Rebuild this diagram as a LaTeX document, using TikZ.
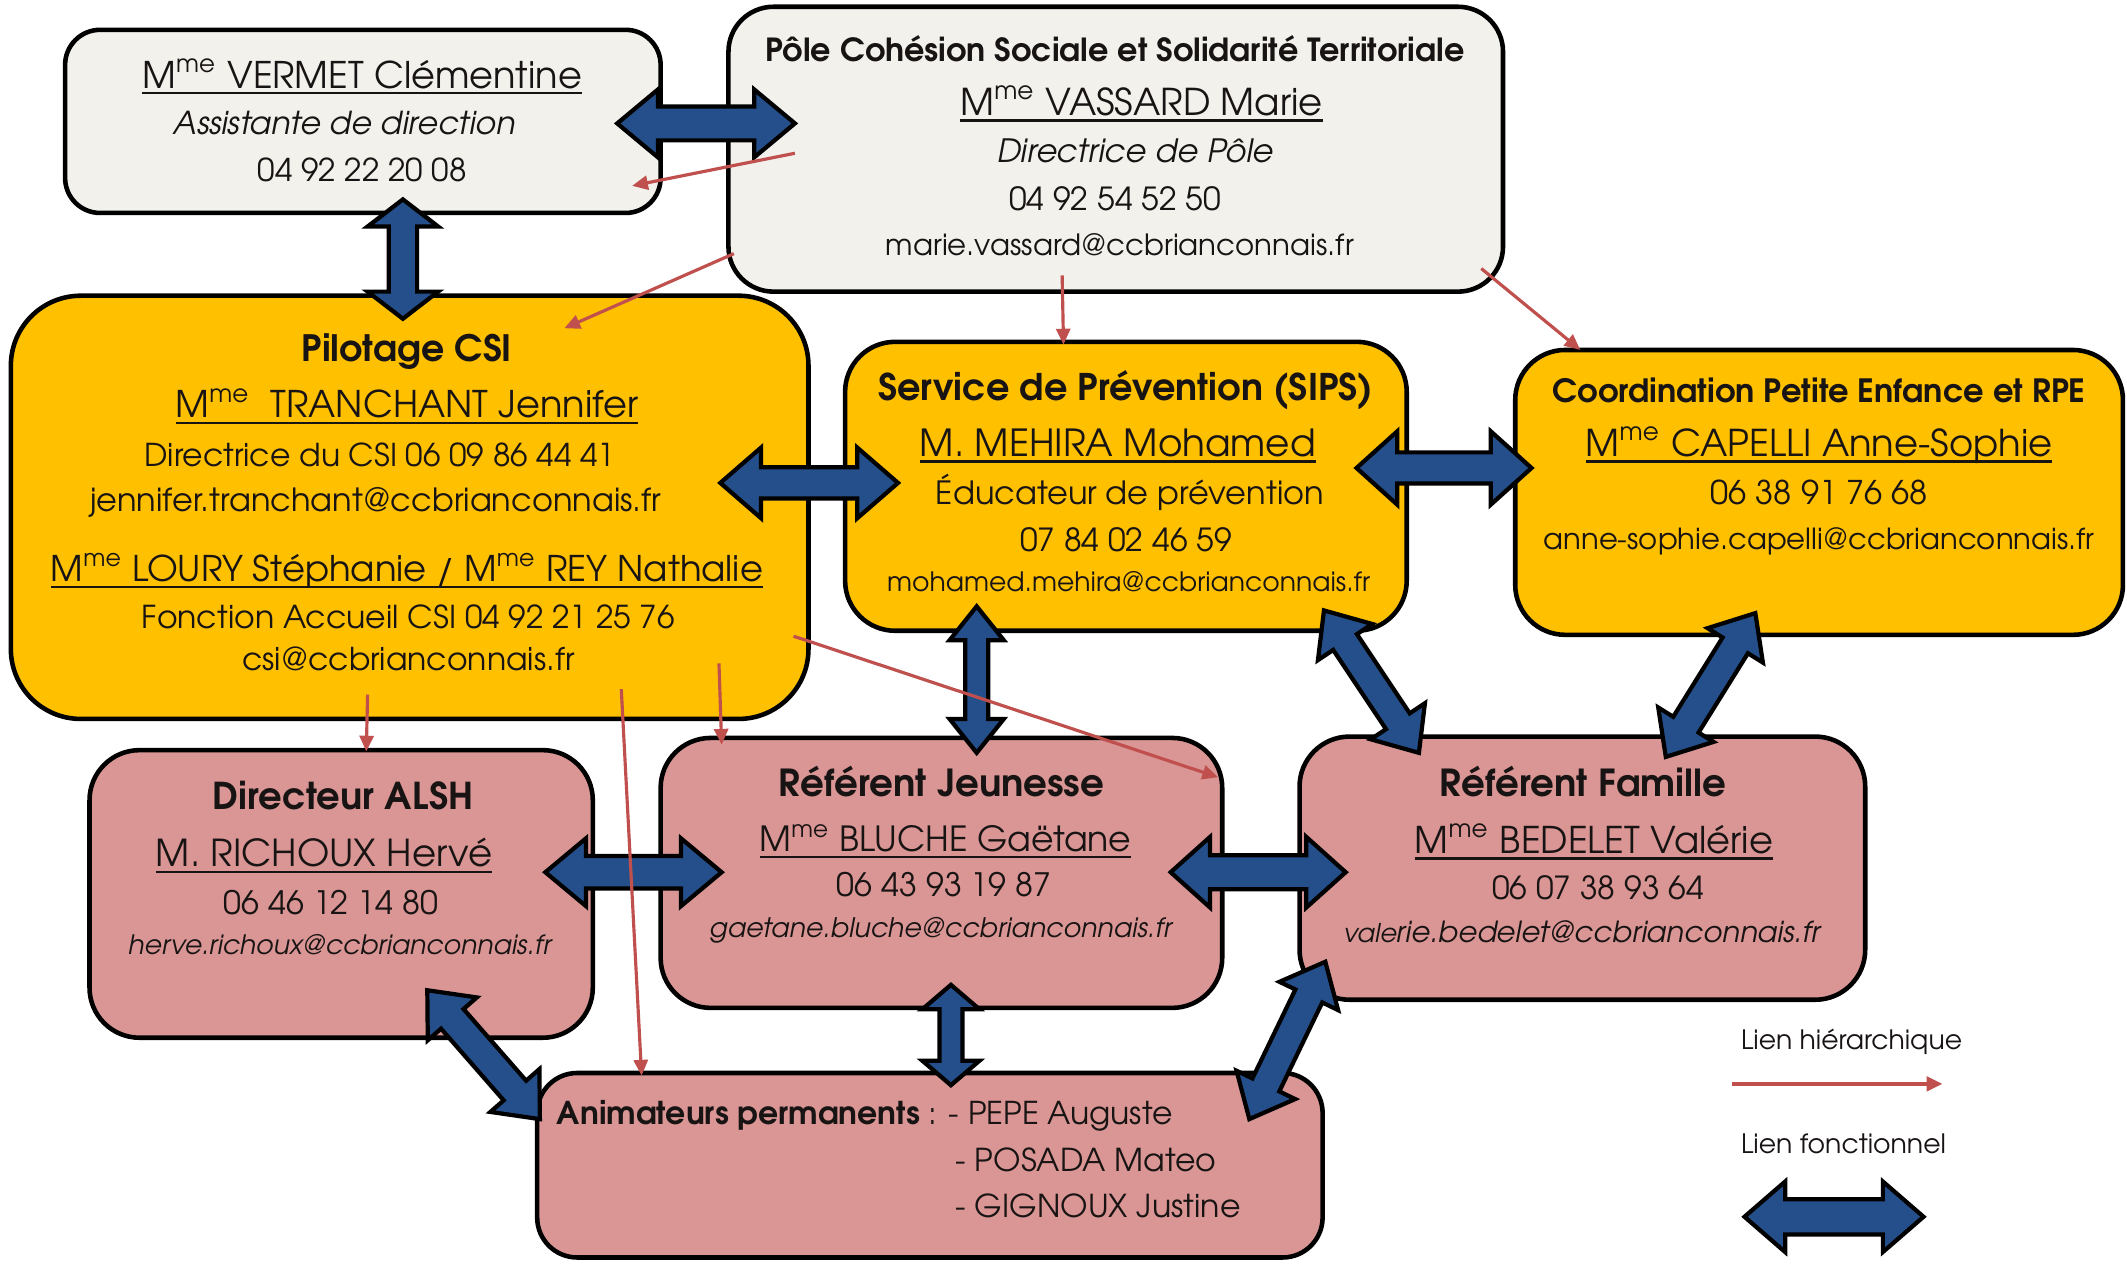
\documentclass[tikz,border=0pt]{standalone}
\usepackage{fontspec}
\setmainfont{texgyreadventor}[Extension=.otf,UprightFont=*-regular,BoldFont=*-bold,ItalicFont=*-italic,BoldItalicFont=*-bolditalic]
\usepackage{graphicx}
\usetikzlibrary{calc,arrows.meta}

\definecolor{boxgray}{RGB}{242,241,236}
\definecolor{boxyellow}{RGB}{255,192,0}
\definecolor{boxpink}{RGB}{217,150,148}
\definecolor{arrblue}{RGB}{37,79,138}
\definecolor{arrred}{RGB}{192,80,77}
\definecolor{txtc}{RGB}{25,20,20}

\newcommand\Mme{M\textsuperscript{me}}
\newsavebox\ulbox
\newcommand\myuline[1]{\sbox\ulbox{#1}\rlap{\rule[-0.17em]{\wd\ulbox}{0.065em}}\usebox\ulbox}
% box: name, x1, y1, x2, y2, style
\newcommand\mkbox[6]{%
  \node[box,#6,minimum width={(#4-#2)*0.1357mm},minimum height={(#5-#3)*0.1357mm}] (#1) at ({(#2+#4)/2},{(#3+#5)/2}) {};}
% text line: name, x, y (baseline), width, anchor, text
\newcommand\tline[6]{%
  \pgfmathsetlengthmacro\tlw{#4*0.1357mm}%
  \node[txt,anchor=#5] (#1) at (#2,#3) {\resizebox{\tlw}{!}{#6}};}
% block double arrow: from, to, head length, head half width, shaft half width
\newcommand\blockarrow[5]{%
  \coordinate (ba1) at ($(#1)!#3*0.1357mm!(#2)$);
  \coordinate (ba2) at ($(#2)!#3*0.1357mm!(#1)$);
  \draw[blk] (#1) -- ($(ba1)!#4*0.1357mm!90:(#2)$) -- ($(ba1)!#5*0.1357mm!90:(#2)$)
    -- ($(ba2)!#5*0.1357mm!-90:(#1)$) -- ($(ba2)!#4*0.1357mm!-90:(#1)$) -- (#2)
    -- ($(ba2)!#4*0.1357mm!90:(#1)$) -- ($(ba2)!#5*0.1357mm!90:(#1)$)
    -- ($(ba1)!#5*0.1357mm!-90:(#2)$) -- ($(ba1)!#4*0.1357mm!-90:(#2)$) -- cycle;}

\tikzset{
  box/.style={draw=black, line width=1.3pt, inner sep=0pt},
  graybox/.style={fill=boxgray, rounded corners=3.5mm},
  yelbox/.style={fill=boxyellow, rounded corners=5mm},
  pinkbox/.style={fill=boxpink, rounded corners=5mm},
  txt/.style={inner sep=0pt, text=txtc, font=\fontsize{9}{11}\selectfont},
  blk/.style={fill=arrblue, draw=black, line width=1.2pt, line join=miter},
  hier/.style={draw=arrred, line width=0.9pt, -{Triangle[length=4.5pt,width=4pt]}},
}

\begin{document}
\begin{tikzpicture}[x=0.1357mm,y=-0.1357mm]
\useasboundingbox[fill=white] (0,0) rectangle (1568,932);

% ---------- boxes ----------
\mkbox{vermet}{48}{22}{487}{157}{graybox}
\mkbox{vassard}{537}{5}{1108}{215}{graybox,rounded corners=4.5mm}
\mkbox{pilot}{8}{218}{596}{530}{yelbox,rounded corners=7mm}
\mkbox{sips}{623}{252}{1037}{465}{yelbox}
\mkbox{coord}{1117}{258}{1565}{468}{yelbox}
\mkbox{alsh}{66}{553}{437}{765}{pinkbox}
\mkbox{jeun}{487}{544}{901}{743}{pinkbox}
\mkbox{fam}{958}{543}{1375}{737}{pinkbox}
\mkbox{anim}{396}{791}{975}{927}{pinkbox,rounded corners=4mm}

% ---------- texts ----------
\tline{v1}{267}{65}{324}{base}{\myuline{\Mme\ VERMET Clémentine}}
\tline{v2}{254}{99.5}{252}{base}{\textit{Assistante de direction}}
\tline{v3}{267}{134}{154}{base}{04 92 22 20 08}

\tline{p1}{822}{45}{515}{base}{\textbf{Pôle Cohésion Sociale et Solidarité Territoriale}}
\tline{p2}{841.5}{85}{267}{base}{\myuline{\Mme\ VASSARD Marie}}
\tline{p3}{837}{120}{204}{base}{\textit{Directrice de Pôle}}
\tline{p4}{822}{155}{156}{base}{04 92 54 52 50}
\tline{p5}{825.5}{188}{345}{base}{marie.vassard@ccbrianconnais.fr}

\tline{c1}{300}{266.5}{155}{base}{\textbf{Pilotage CSI}}
\tline{c2}{300}{308}{341}{base}{\myuline{\Mme\ \ TRANCHANT Jennifer}}
\tline{c3}{280}{344}{347}{base}{Directrice du CSI 06 09 86 44 41}
\tline{c4}{277}{377}{421}{base}{jennifer.tranchant@ccbrianconnais.fr}
\tline{c5}{300}{429}{525}{base}{\myuline{\Mme\ LOURY Stéphanie / \Mme\ REY Nathalie}}
\tline{c6}{301}{463}{393}{base}{Fonction Accueil CSI 04 92 21 25 76}
\tline{c7}{301}{494}{245}{base}{csi@ccbrianconnais.fr}

\tline{s1}{830}{295}{365}{base}{\textbf{Service de Prévention (SIPS)}}
\tline{s2}{824}{336.5}{292}{base}{\myuline{M. MEHIRA Mohamed}}
\tline{s3}{833}{372}{286}{base}{Éducateur de prévention}
\tline{s4}{830}{406.5}{156}{base}{07 84 02 46 59}
\tline{s5}{832}{436}{356}{base}{mohamed.mehira@ccbrianconnais.fr}

\tline{k1}{1341}{297}{393}{base}{\textbf{Coordination Petite Enfance et RPE}}
\tline{k2}{1341}{336.5}{344}{base}{\myuline{\Mme\ CAPELLI Anne-Sophie}}
\tline{k3}{1341}{372}{160}{base}{06 38 91 76 68}
\tline{k4}{1341}{405}{406}{base}{anne-sophie.capelli@ccbrianconnais.fr}

\tline{a1}{253}{597}{192}{base}{\textbf{Directeur ALSH}}
\tline{a2}{239}{639}{248}{base}{\myuline{M. RICHOUX Hervé}}
\tline{a3}{244}{674}{158}{base}{06 46 12 14 80}
\tline{a4}{251}{704}{313}{base}{\textit{herve.richoux@ccbrianconnais.fr}}

\tline{j1}{694}{587}{240}{base}{\textbf{Référent Jeunesse}}
\tline{j2}{697}{628}{274}{base}{\myuline{\Mme\ BLUCHE Gaëtane}}
\tline{j3}{696}{661}{158}{base}{06 43 93 19 87}
\tline{j4}{694}{691}{342}{base}{\textit{gaetane.bluche@ccbrianconnais.fr}}

\tline{f1}{1167}{587}{211}{base}{\textbf{Référent Famille}}
\tline{f2}{1175}{629}{264}{base}{\myuline{\Mme\ BEDELET Valérie}}
\tline{f3}{1178}{663}{156}{base}{06 07 38 93 64}
\tline{f4}{1167}{695}{353}{base}{\textit{{\footnotesize vale}rie.bedelet@ccbrianconnais.fr}}

\tline{n1}{410}{829}{454}{base west}{\textbf{Animateurs permanents} : - PEPE Auguste}
\tline{n2}{704}{863.5}{192}{base west}{- POSADA Mateo}
\tline{n3}{704}{897.5}{210}{base west}{- GIGNOUX Justine}

\tline{l1}{1283}{774}{163}{base west}{Lien hiérarchique}
\tline{l2}{1283}{850}{151}{base west}{Lien fonctionnel}

% ---------- functional links (block arrows) ----------
\coordinate (fA1) at (455,91);   \coordinate (fA2) at (586,91);
\coordinate (fB1) at (297,147);  \coordinate (fB2) at (297,235);
\coordinate (fC1) at (531,356);  \coordinate (fC2) at (662,356);
\coordinate (fD1) at (1000,345); \coordinate (fD2) at (1129,345);
\coordinate (fE1) at (720,447);  \coordinate (fE2) at (720,555);
\coordinate (fF1) at (976,450);  \coordinate (fF2) at (1046,555);
\coordinate (fG1) at (1294,452); \coordinate (fG2) at (1228,558);
\coordinate (fH1) at (402,643);  \coordinate (fH2) at (532,643);
\coordinate (fI1) at (863,643);  \coordinate (fI2) at (992,643);
\coordinate (fJ1) at (701,726);  \coordinate (fJ2) at (701,800);
\coordinate (fK1) at (315,730);  \coordinate (fK2) at (398,825);
\coordinate (fL1) at (977,709);  \coordinate (fL2) at (921,825);
\coordinate (fM1) at (1286,897); \coordinate (fM2) at (1418,897);

\blockarrow{fA1}{fA2}{30}{25}{12.5}
\blockarrow{fB1}{fB2}{20}{26}{10.5}
\blockarrow{fC1}{fC2}{30}{26}{11.5}
\blockarrow{fD1}{fD2}{30}{27}{11.5}
\blockarrow{fE1}{fE2}{25}{20}{8.5}
\blockarrow{fF1}{fF2}{28}{24}{10.5}
\blockarrow{fG1}{fG2}{28}{24}{11}
\blockarrow{fH1}{fH2}{30}{25}{12}
\blockarrow{fI1}{fI2}{29}{26}{12.5}
\blockarrow{fJ1}{fJ2}{18}{21}{8.5}
\blockarrow{fK1}{fK2}{28}{24}{11}
\blockarrow{fL1}{fL2}{28}{24}{11}
\blockarrow{fM1}{fM2}{30}{26}{13}

% ---------- hierarchical links ----------
\coordinate (h1a) at (586,113);  \coordinate (h1b) at (466,137);
\coordinate (h2a) at (541,187);  \coordinate (h2b) at (416,242);
\coordinate (h3a) at (783,203);  \coordinate (h3b) at (784,254);
\coordinate (h4a) at (1092,198); \coordinate (h4b) at (1165,258);
\coordinate (h5a) at (271,512);  \coordinate (h5b) at (270,554);
\coordinate (h6a) at (458,508);  \coordinate (h6b) at (473,793);
\coordinate (h7a) at (530,489);  \coordinate (h7b) at (532,549);
\coordinate (h8a) at (585,469);  \coordinate (h8b) at (898,573);
\coordinate (hLa) at (1277,799); \coordinate (hLb) at (1432,799);

\draw[hier] (h1a) -- (h1b);
\draw[hier] (h2a) -- (h2b);
\draw[hier] (h3a) -- (h3b);
\draw[hier] (h4a) -- (h4b);
\draw[hier] (h5a) -- (h5b);
\draw[hier] (h6a) -- (h6b);
\draw[hier] (h7a) -- (h7b);
\draw[hier] (h8a) -- (h8b);
\draw[hier, line width=1.2pt] (hLa) -- (hLb);
\end{tikzpicture}
\end{document}
